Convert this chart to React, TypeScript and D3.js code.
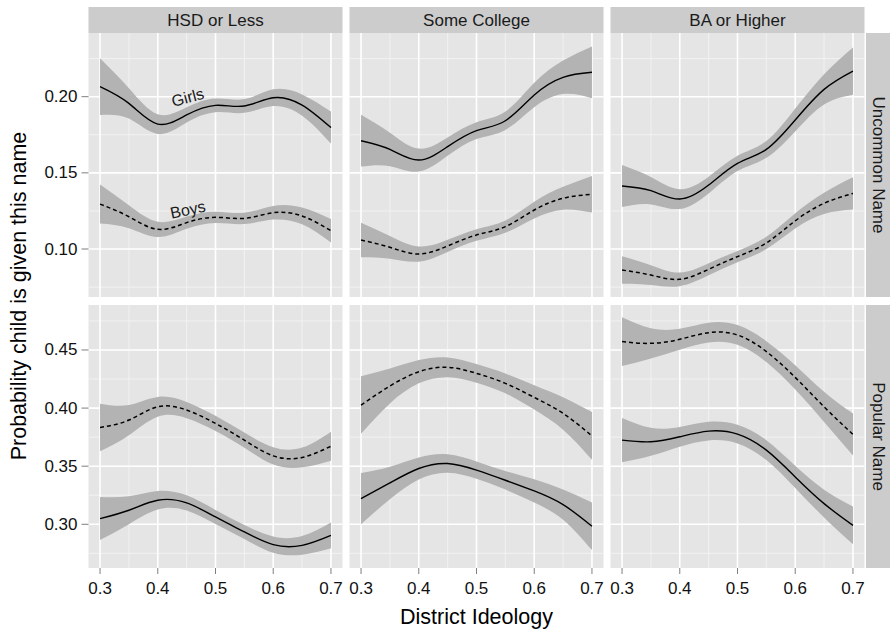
import React from "react";
import * as d3 from "d3";

// ---------- data ----------
const educationLevels = ["HSD or Less", "Some College", "BA or Higher"];
const nameTypes = ["Uncommon Name", "Popular Name"];
const ideology = [0.3, 0.35, 0.4, 0.45, 0.5, 0.55, 0.6, 0.65, 0.7];
const xTicks = [0.3, 0.4, 0.5, 0.6, 0.7];
const xMinor = [0.35, 0.45, 0.55, 0.65];
const yTicksUncommon = [0.1, 0.15, 0.2];
const yMinorUncommon = [0.075, 0.125, 0.175, 0.225];
const yTicksPopular = [0.3, 0.35, 0.4, 0.45];
const yMinorPopular = [0.275, 0.325, 0.375, 0.425, 0.475];

// Uncommon name – fitted values and ribbon half-widths
const uncommonGirlsHSD = [0.2066, 0.1956, 0.182, 0.188, 0.1943, 0.1939, 0.1993, 0.1945, 0.1797];
const uncommonGirlsHSDBand = [0.0186, 0.01, 0.0065, 0.005, 0.0045, 0.0045, 0.0055, 0.007, 0.0105];
const uncommonBoysHSD = [0.1295, 0.1212, 0.1129, 0.1173, 0.1208, 0.1201, 0.1238, 0.1217, 0.112];
const uncommonBoysHSDBand = [0.0128, 0.0075, 0.005, 0.004, 0.0037, 0.0037, 0.0045, 0.0055, 0.0077];

const uncommonGirlsCollege = [0.1711, 0.1654, 0.1584, 0.1672, 0.1777, 0.1842, 0.2011, 0.2127, 0.216];
const uncommonGirlsCollegeBand = [0.017, 0.011, 0.0075, 0.006, 0.0055, 0.006, 0.008, 0.011, 0.017];
const uncommonBoysCollege = [0.1059, 0.1011, 0.0967, 0.102, 0.1092, 0.1147, 0.1256, 0.1333, 0.1359];
const uncommonBoysCollegeBand = [0.0113, 0.0075, 0.005, 0.004, 0.0038, 0.004, 0.0055, 0.0075, 0.012];

const uncommonGirlsBA = [0.1414, 0.1383, 0.1328, 0.142, 0.1562, 0.1654, 0.1847, 0.2048, 0.2168];
const uncommonGirlsBABand = [0.0138, 0.009, 0.0065, 0.0055, 0.005, 0.0055, 0.0075, 0.01, 0.0155];
const uncommonBoysBA = [0.0862, 0.0829, 0.0801, 0.0867, 0.095, 0.104, 0.1185, 0.13, 0.1365];
const uncommonBoysBABand = [0.009, 0.0065, 0.0045, 0.004, 0.0037, 0.004, 0.005, 0.007, 0.0106];

// Popular name
const popularGirlsHSD = [0.3049, 0.3121, 0.3207, 0.3184, 0.3063, 0.2934, 0.2825, 0.2819, 0.2905];
const popularGirlsHSDBand = [0.0185, 0.012, 0.008, 0.0065, 0.006, 0.006, 0.007, 0.008, 0.011];
const popularBoysHSD = [0.3833, 0.3897, 0.4011, 0.3983, 0.3868, 0.3724, 0.3589, 0.3575, 0.3672];
const popularBoysHSDBand = [0.0205, 0.013, 0.0085, 0.007, 0.0065, 0.0065, 0.0075, 0.0085, 0.0125];

const popularGirlsCollege = [0.3221, 0.3356, 0.348, 0.3523, 0.3466, 0.3379, 0.3287, 0.3169, 0.2983];
const popularGirlsCollegeBand = [0.022, 0.014, 0.0095, 0.008, 0.0075, 0.008, 0.01, 0.013, 0.0205];
const popularBoysCollege = [0.4026, 0.419, 0.4313, 0.4351, 0.4299, 0.4213, 0.4092, 0.3954, 0.3761];
const popularBoysCollegeBand = [0.0247, 0.015, 0.01, 0.0085, 0.008, 0.0085, 0.0105, 0.014, 0.0205];

const popularGirlsBA = [0.3724, 0.371, 0.3753, 0.3802, 0.3776, 0.3638, 0.3408, 0.3178, 0.2991];
const popularGirlsBABand = [0.019, 0.012, 0.0085, 0.008, 0.008, 0.0085, 0.0095, 0.012, 0.0163];
const popularBoysBA = [0.4572, 0.4557, 0.4592, 0.4649, 0.4629, 0.4486, 0.4264, 0.4011, 0.3773];
const popularBoysBABand = [0.021, 0.013, 0.009, 0.0085, 0.0085, 0.009, 0.0105, 0.013, 0.018];

const panelSeries = [
  [
    { girls: uncommonGirlsHSD, girlsBand: uncommonGirlsHSDBand, boys: uncommonBoysHSD, boysBand: uncommonBoysHSDBand },
    { girls: uncommonGirlsCollege, girlsBand: uncommonGirlsCollegeBand, boys: uncommonBoysCollege, boysBand: uncommonBoysCollegeBand },
    { girls: uncommonGirlsBA, girlsBand: uncommonGirlsBABand, boys: uncommonBoysBA, boysBand: uncommonBoysBABand },
  ],
  [
    { girls: popularGirlsHSD, girlsBand: popularGirlsHSDBand, boys: popularBoysHSD, boysBand: popularBoysHSDBand },
    { girls: popularGirlsCollege, girlsBand: popularGirlsCollegeBand, boys: popularBoysCollege, boysBand: popularBoysCollegeBand },
    { girls: popularGirlsBA, girlsBand: popularGirlsBABand, boys: popularBoysBA, boysBand: popularBoysBABand },
  ],
];

const annotations = [
  { label: "Girls", x: 0.452, y: 0.1995, angle: -15 },
  { label: "Boys", x: 0.452, y: 0.1258, angle: -12 },
];

// ---------- layout ----------
const W = 890;
const H = 630;
const panelLefts = [88.5, 349.5, 610.5];
const panelW = 254;
const rowTops = [33, 305];
const rowBottoms = [297, 568];
const stripTop = 7;
const rightStripX = 866;
const FONT = "'Liberation Sans', Arial, Helvetica, sans-serif";

const yDomains: [number, number][] = [
  [0.0685, 0.2418],
  [0.2624, 0.4887],
];
const yMajor = [yTicksUncommon, yTicksPopular];
const yMinor = [yMinorUncommon, yMinorPopular];

export default function App() {
  const fmtX = d3.format(".1f");
  const fmtY = d3.format(".2f");
  const curve = d3.curveNatural;

  const panels: JSX.Element[] = [];
  rowTops.forEach((top, r) => {
    const y = d3.scaleLinear().domain(yDomains[r]).range([rowBottoms[r], top]);
    panelLefts.forEach((left, c) => {
      const x = d3.scaleLinear().domain([0.28, 0.72]).range([left, left + panelW]);
      const s = panelSeries[r][c];
      const area = (fit: number[], band: number[]) =>
        d3
          .area<number>()
          .x((_, i) => x(ideology[i]))
          .y0((d, i) => y(d - band[i]))
          .y1((d, i) => y(d + band[i]))
          .curve(curve)(fit) as string;
      const line = (fit: number[]) =>
        d3
          .line<number>()
          .x((_, i) => x(ideology[i]))
          .y((d) => y(d))
          .curve(curve)(fit) as string;
      panels.push(
        <g key={`p${r}${c}`}>
          <rect x={left} y={top} width={panelW} height={rowBottoms[r] - top} fill="#e5e5e5" />
          {yMinor[r].map((v) =>
            y(v) > top && y(v) < rowBottoms[r] ? (
              <line key={`ym${v}`} x1={left} x2={left + panelW} y1={y(v)} y2={y(v)} stroke="#f2f2f2" strokeWidth={1} />
            ) : null
          )}
          {xMinor.map((v) => (
            <line key={`xm${v}`} x1={x(v)} x2={x(v)} y1={top} y2={rowBottoms[r]} stroke="#f2f2f2" strokeWidth={1} />
          ))}
          {yMajor[r].map((v) => (
            <line key={`yM${v}`} x1={left} x2={left + panelW} y1={y(v)} y2={y(v)} stroke="#ffffff" strokeWidth={1.6} />
          ))}
          {xTicks.map((v) => (
            <line key={`xM${v}`} x1={x(v)} x2={x(v)} y1={top} y2={rowBottoms[r]} stroke="#ffffff" strokeWidth={1.6} />
          ))}
          <path d={area(s.girls, s.girlsBand)} fill="#b3b3b3" />
          <path d={area(s.boys, s.boysBand)} fill="#b3b3b3" />
          <path d={line(s.girls)} fill="none" stroke="#000" strokeWidth={1.4} />
          <path d={line(s.boys)} fill="none" stroke="#000" strokeWidth={1.5} strokeDasharray="4 3" />
          {r === 0 && c === 0 &&
            annotations.map((a) => (
              <text
                key={a.label}
                transform={`translate(${x(a.x)},${y(a.y)}) rotate(${a.angle})`}
                textAnchor="middle"
                dominantBaseline="central"
                fontFamily={FONT}
                fontSize={16}
                fill="#1a1a1a"
              >
                {a.label}
              </text>
            ))}
          {r === 1 &&
            xTicks.map((v) => (
              <g key={`xt${v}`}>
                <line x1={x(v)} x2={x(v)} y1={rowBottoms[r]} y2={rowBottoms[r] + 6} stroke="#7f7f7f" strokeWidth={1} />
                <text x={x(v)} y={594} textAnchor="middle" fontFamily={FONT} fontSize={17} fill="#111">
                  {fmtX(v)}
                </text>
              </g>
            ))}
          {c === 0 &&
            yMajor[r].map((v) => (
              <g key={`yt${v}`}>
                <line x1={left - 7} x2={left} y1={y(v)} y2={y(v)} stroke="#7f7f7f" strokeWidth={1} />
                <text x={left - 11} y={y(v)} textAnchor="end" dominantBaseline="central" fontFamily={FONT} fontSize={17} fill="#111">
                  {fmtY(v)}
                </text>
              </g>
            ))}
        </g>
      );
    });
  });

  return (
    <svg width={W} height={H} style={{ position: "absolute", left: 0, top: 0, background: "#fff" }}>
      <rect x={0} y={0} width={W} height={H} fill="#fff" />
      {educationLevels.map((lab, c) => (
        <g key={lab}>
          <rect x={panelLefts[c]} y={stripTop} width={panelW} height={rowTops[0] - stripTop} fill="#cccccc" />
          <text
            x={panelLefts[c] + panelW / 2}
            y={(stripTop + rowTops[0]) / 2}
            textAnchor="middle"
            dominantBaseline="central"
            fontFamily={FONT}
            fontSize={17}
            fill="#1a1a1a"
          >
            {lab}
          </text>
        </g>
      ))}
      {nameTypes.map((lab, r) => (
        <g key={lab}>
          <rect x={rightStripX} y={rowTops[r]} width={W - rightStripX} height={rowBottoms[r] - rowTops[r]} fill="#cccccc" />
          <text
            transform={`translate(${(rightStripX + W) / 2},${(rowTops[r] + rowBottoms[r]) / 2}) rotate(90)`}
            textAnchor="middle"
            dominantBaseline="central"
            fontFamily={FONT}
            fontSize={17}
            fill="#1a1a1a"
          >
            {lab}
          </text>
        </g>
      ))}
      {panels}
      <text x={476.5} y={624} textAnchor="middle" fontFamily={FONT} fontSize={21.5} fill="#000">
        District Ideology
      </text>
      <text
        transform={`translate(19,296) rotate(-90)`}
        textAnchor="middle"
        dominantBaseline="central"
        fontFamily={FONT}
        fontSize={21.5}
        fill="#000"
      >
        Probability child is given this name
      </text>
    </svg>
  );
}
